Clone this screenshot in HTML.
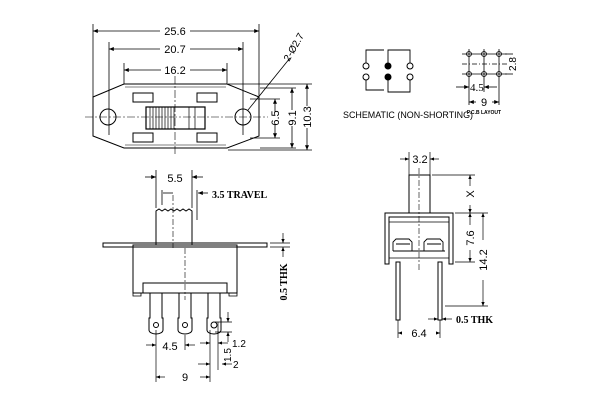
<!DOCTYPE html>
<html><head><style>body{margin:0;background:#fff}svg{display:block}</style></head><body>
<svg width="600" height="400" viewBox="0 0 600 400" xmlns="http://www.w3.org/2000/svg" stroke="#000" fill="none" stroke-width="1" font-family="Liberation Sans, sans-serif">
<defs><marker id="a" markerWidth="6" markerHeight="6" refX="6" refY="3" orient="auto"><path d="M0,0.5 L6,3 L0,5.5z" fill="#000" stroke="none"/></marker></defs>
<g fill="#000">
<!-- TOP VIEW -->
<g stroke-width="0.8" fill="none">
<line x1="93" y1="24" x2="93" y2="97"/><line x1="259" y1="24" x2="259" y2="97"/>
<line x1="109" y1="42" x2="109" y2="135"/><line x1="243" y1="42" x2="243" y2="135"/>
<line x1="124" y1="63" x2="124" y2="84"/><line x1="227" y1="63" x2="227" y2="84"/>
<line x1="160" y1="31" x2="93" y2="31" marker-end="url(#a)"/><line x1="190" y1="31" x2="259" y2="31" marker-end="url(#a)"/>
<line x1="160" y1="49" x2="109" y2="49" marker-end="url(#a)"/><line x1="190" y1="49" x2="243" y2="49" marker-end="url(#a)"/>
<line x1="161" y1="70" x2="124" y2="70" marker-end="url(#a)"/><line x1="190" y1="70" x2="227" y2="70" marker-end="url(#a)"/>
</g>
<text x="175" y="35" font-size="11" text-anchor="middle" stroke="none">25.6</text>
<text x="175" y="53" font-size="11" text-anchor="middle" stroke="none">20.7</text>
<text x="175" y="74" font-size="11" text-anchor="middle" stroke="none">16.2</text>
<g fill="none">
<path d="M124,84 L227,84 L259,97 L259,136 L227,148 L124,148 L93,136 L93,97 Z"/>
<path d="M125,87 L226,87 M125,145 L226,145" stroke-width="0.6"/>
<circle cx="108" cy="117" r="8"/><circle cx="243" cy="117" r="8"/>
<rect x="133" y="93" width="20" height="9"/><rect x="197" y="93" width="20" height="9"/>
<rect x="133" y="133" width="20" height="9"/><rect x="197" y="133" width="20" height="9"/>
<rect x="146" y="107" width="59" height="22" stroke-width="1.2"/>
<path d="M150,107v22M153,107v22M156,107v22M159,107v22M162,107v22M165,107v22M168,107v22M171,107v22M174,107v22M189,107v22M195,107v22" stroke-width="0.7"/>
<line x1="85" y1="117" x2="268" y2="117" stroke-width="0.6" stroke-dasharray="8,2,2,2"/>
<line x1="175" y1="76" x2="175" y2="156" stroke-width="0.6" stroke-dasharray="8,2,2,2"/>
<line x1="248" y1="110" x2="290" y2="58" stroke-width="0.8"/>
</g>
<text font-size="10" stroke="none" transform="translate(289,62) rotate(-60)">2-Ø2.7</text>
<g stroke-width="0.8" fill="none">
<line x1="250" y1="99" x2="280" y2="99"/><line x1="250" y1="138" x2="280" y2="138"/>
<line x1="260" y1="88" x2="296" y2="88"/><line x1="260" y1="148" x2="296" y2="148"/>
<line x1="228" y1="84" x2="312" y2="84"/><line x1="228" y1="150" x2="312" y2="150"/>
<line x1="275" y1="112" x2="275" y2="99" marker-end="url(#a)"/><line x1="275" y1="125" x2="275" y2="138" marker-end="url(#a)"/>
<line x1="292" y1="110" x2="292" y2="88" marker-end="url(#a)"/><line x1="292" y1="126" x2="292" y2="148" marker-end="url(#a)"/>
<line x1="307" y1="106" x2="307" y2="84" marker-end="url(#a)"/><line x1="307" y1="128" x2="307" y2="150" marker-end="url(#a)"/>
</g>
<text font-size="11" stroke="none" text-anchor="middle" transform="translate(279,118) rotate(-90)">6.5</text>
<text font-size="11" stroke="none" text-anchor="middle" transform="translate(296,118) rotate(-90)">9.1</text>
<text font-size="11" stroke="none" text-anchor="middle" transform="translate(311,117) rotate(-90)">10.3</text>
<!-- SCHEMATIC -->
<g fill="none">
<circle cx="366" cy="66" r="3"/><circle cx="366" cy="77" r="3"/>
<circle cx="410" cy="66" r="3"/><circle cx="410" cy="77" r="3"/>
<path d="M366,63 V50 H384 M388,63 V50 H410 V63 M366,80 V90 H384 M388,80 V92 H410 V80" stroke-width="0.9"/>
</g>
<circle cx="388" cy="66" r="3"/><circle cx="388" cy="77" r="3"/>
<text x="343" y="118" font-size="9" stroke="none" textLength="130" lengthAdjust="spacingAndGlyphs">SCHEMATIC (NON-SHORTING)</text>
<!-- PCB -->
<g stroke-width="0.8" fill="none">
<line x1="462" y1="54" x2="507" y2="54"/><line x1="462" y1="74" x2="507" y2="74"/>
<line x1="462" y1="64" x2="507" y2="64" stroke-dasharray="5,2,1,2"/>
<circle cx="469" cy="54" r="2.5"/><circle cx="484" cy="54" r="2.5"/><circle cx="499" cy="54" r="2.5"/>
<circle cx="469" cy="74" r="2.5"/><circle cx="484" cy="74" r="2.5"/><circle cx="499" cy="74" r="2.5"/>
<line x1="469" y1="49" x2="469" y2="105"/><line x1="484" y1="49" x2="484" y2="92"/><line x1="499" y1="49" x2="499" y2="105"/>
<line x1="456" y1="87" x2="469" y2="87" marker-end="url(#a)"/><line x1="497" y1="87" x2="484" y2="87" marker-end="url(#a)"/>
<line x1="476" y1="102" x2="469" y2="102" marker-end="url(#a)"/><line x1="492" y1="102" x2="499" y2="102" marker-end="url(#a)"/>
<line x1="505" y1="54" x2="513" y2="54"/><line x1="505" y1="74" x2="513" y2="74"/>
</g>
<text x="470" y="91" font-size="11" stroke="none" font-family="Liberation Serif, serif">4.5</text>
<text x="484" y="106" font-size="11" stroke="none" text-anchor="middle">9</text>
<text font-size="10" stroke="none" text-anchor="middle" transform="translate(516,64) rotate(-90)">2.8</text>
<text x="484" y="114" font-size="5" stroke="none" text-anchor="middle" font-weight="bold">P.C.B LAYOUT</text>
<!-- SIDE VIEW -->
<g fill="none">
<rect x="103" y="243" width="164" height="4"/>
<rect x="133" y="245" width="104" height="48"/>
<rect x="143" y="283" width="84" height="10"/>
<path d="M133,293v3h8v-3M229,293v3h8v-3" stroke-width="0.8"/>
<path d="M156,245 V211 l3,-2 3,2 3,-2 3,2 3,-2 3,2 3,-2 3,2 3,-2 3,2 3,-2 3,2 V245"/>
<line x1="173" y1="195" x2="173" y2="248" stroke-width="0.6" stroke-dasharray="6,2,2,2"/>
<line x1="185" y1="248" x2="185" y2="300" stroke-width="0.6" stroke-dasharray="6,2,2,2"/>
<g stroke-width="0.8">
<line x1="156" y1="170" x2="156" y2="208"/><line x1="192" y1="170" x2="192" y2="208"/>
<line x1="145" y1="177" x2="156" y2="177" marker-end="url(#a)"/><line x1="203" y1="177" x2="192" y2="177" marker-end="url(#a)"/>
<line x1="162" y1="190" x2="162" y2="205"/><line x1="163" y1="193" x2="173" y2="193"/>
<line x1="197" y1="190" x2="197" y2="220"/><line x1="208" y1="193" x2="198" y2="193" marker-end="url(#a)"/>
</g>
</g>
<text x="175" y="182" font-size="11" stroke="none" text-anchor="middle">5.5</text>
<text x="212" y="198" font-size="10" stroke="none" font-family="Liberation Serif, serif" font-weight="bold">3.5  TRAVEL</text>
<g stroke-width="1" fill="none">
<path d="M150,293 V318 h-1 v12 a7,4 0 0 0 14,0 v-12 h-1 V293"/><circle cx="156" cy="325" r="2.5"/>
<path d="M179,293 V318 h-1 v12 a7,4 0 0 0 14,0 v-12 h-1 V293"/><circle cx="185" cy="325" r="2.5"/>
<path d="M208,293 V318 h-1 v12 a7,4 0 0 0 14,0 v-12 h-1 V293"/><circle cx="214" cy="325" r="3"/>
</g>
<g stroke-width="0.7" fill="none">
<line x1="156" y1="330" x2="156" y2="382"/><line x1="185" y1="335" x2="185" y2="350"/>
<line x1="210" y1="330" x2="210" y2="382"/><line x1="218" y1="322" x2="218" y2="370"/>
<line x1="146" y1="345" x2="156" y2="345" marker-end="url(#a)"/><line x1="195" y1="345" x2="185" y2="345" marker-end="url(#a)"/>
<line x1="165" y1="377" x2="156" y2="377" marker-end="url(#a)"/><line x1="200" y1="377" x2="210" y2="377" marker-end="url(#a)"/>
<line x1="228" y1="312" x2="228" y2="322" marker-end="url(#a)"/><line x1="215" y1="322" x2="232" y2="322"/><line x1="215" y1="332" x2="232" y2="332"/>
<line x1="228" y1="342" x2="228" y2="332" marker-end="url(#a)"/>
<line x1="200" y1="343" x2="210" y2="343" marker-end="url(#a)"/><line x1="228" y1="343" x2="218" y2="343" marker-end="url(#a)"/>
<line x1="198" y1="364" x2="210" y2="364" marker-end="url(#a)"/><line x1="232" y1="364" x2="222" y2="364" marker-end="url(#a)"/>
</g>
<text x="170" y="350" font-size="11" stroke="none" text-anchor="middle">4.5</text>
<text x="185" y="381" font-size="11" stroke="none" text-anchor="middle">9</text>
<text x="232" y="347" font-size="10" stroke="none">1.2</text>
<text font-size="10" stroke="none" transform="translate(231,362) rotate(-90)">1.5</text>
<text x="233" y="368" font-size="10" stroke="none">2</text>
<g stroke-width="0.7" fill="none">
<line x1="283" y1="233" x2="283" y2="243" marker-end="url(#a)"/><line x1="283" y1="257" x2="283" y2="247" marker-end="url(#a)"/>
<line x1="270" y1="243" x2="290" y2="243"/><line x1="270" y1="247" x2="290" y2="247"/>
</g>
<text font-size="10" stroke="none" text-anchor="middle" font-family="Liberation Serif, serif" font-weight="bold" transform="translate(287,282) rotate(-90)">0.5  THK</text>
<!-- RIGHT VIEW -->
<g fill="none">
<rect x="409" y="175" width="21" height="38"/>
<line x1="419" y1="168" x2="419" y2="270" stroke-width="0.6" stroke-dasharray="6,2,2,2"/>
<path d="M385,264 V213 H453 V264 h-4 V217 H389 V264 Z"/>
<line x1="389" y1="222" x2="449" y2="222" stroke-width="0.7"/>
<path d="M389,258 H449" stroke-width="0.8"/>
<path d="M393,251 v-9 l3,-3 h13 l3,3 v9 M424,251 v-9 l3,-3 h13 l3,3 v9 M396,244 h14 M427,244 h14 M393,251 H445" stroke-width="0.9"/>
<rect x="396" y="262" width="4" height="58"/><rect x="438" y="262" width="4" height="58"/>
<g stroke-width="0.7">
<line x1="398" y1="320" x2="398" y2="338"/><line x1="440" y1="320" x2="440" y2="338"/>
<line x1="400" y1="159" x2="409" y2="159" marker-end="url(#a)"/><line x1="439" y1="159" x2="430" y2="159" marker-end="url(#a)"/>
<line x1="409" y1="152" x2="409" y2="175"/><line x1="430" y1="152" x2="430" y2="175"/>
<line x1="432" y1="175" x2="475" y2="175"/><line x1="455" y1="213" x2="488" y2="213"/><line x1="455" y1="262" x2="475" y2="262"/>
<line x1="445" y1="306" x2="488" y2="306"/>
<line x1="470" y1="186" x2="470" y2="175" marker-end="url(#a)"/><line x1="470" y1="205" x2="470" y2="213" marker-end="url(#a)"/>
<line x1="470" y1="225" x2="470" y2="213" marker-end="url(#a)"/><line x1="470" y1="250" x2="470" y2="262" marker-end="url(#a)"/>
<line x1="483" y1="240" x2="483" y2="213" marker-end="url(#a)"/><line x1="483" y1="280" x2="483" y2="306" marker-end="url(#a)"/>
<line x1="428" y1="319" x2="438" y2="319" marker-end="url(#a)"/><line x1="452" y1="319" x2="442" y2="319" marker-end="url(#a)"/>
<line x1="402" y1="333" x2="398" y2="333" marker-end="url(#a)"/><line x1="436" y1="333" x2="440" y2="333" marker-end="url(#a)"/>
</g>
</g>
<text x="420" y="163" font-size="11" stroke="none" text-anchor="middle">3.2</text>
<text font-size="11" stroke="none" text-anchor="middle" transform="translate(474,194) rotate(-90)">X</text>
<text font-size="11" stroke="none" text-anchor="middle" transform="translate(474,238) rotate(-90)">7.6</text>
<text font-size="11" stroke="none" text-anchor="middle" transform="translate(487,260) rotate(-90)">14.2</text>
<text x="456" y="323" font-size="10" stroke="none" font-family="Liberation Serif, serif" font-weight="bold">0.5  THK</text>
<text x="419" y="337" font-size="11" stroke="none" text-anchor="middle">6.4</text>
</g>
</svg>
</body></html>
